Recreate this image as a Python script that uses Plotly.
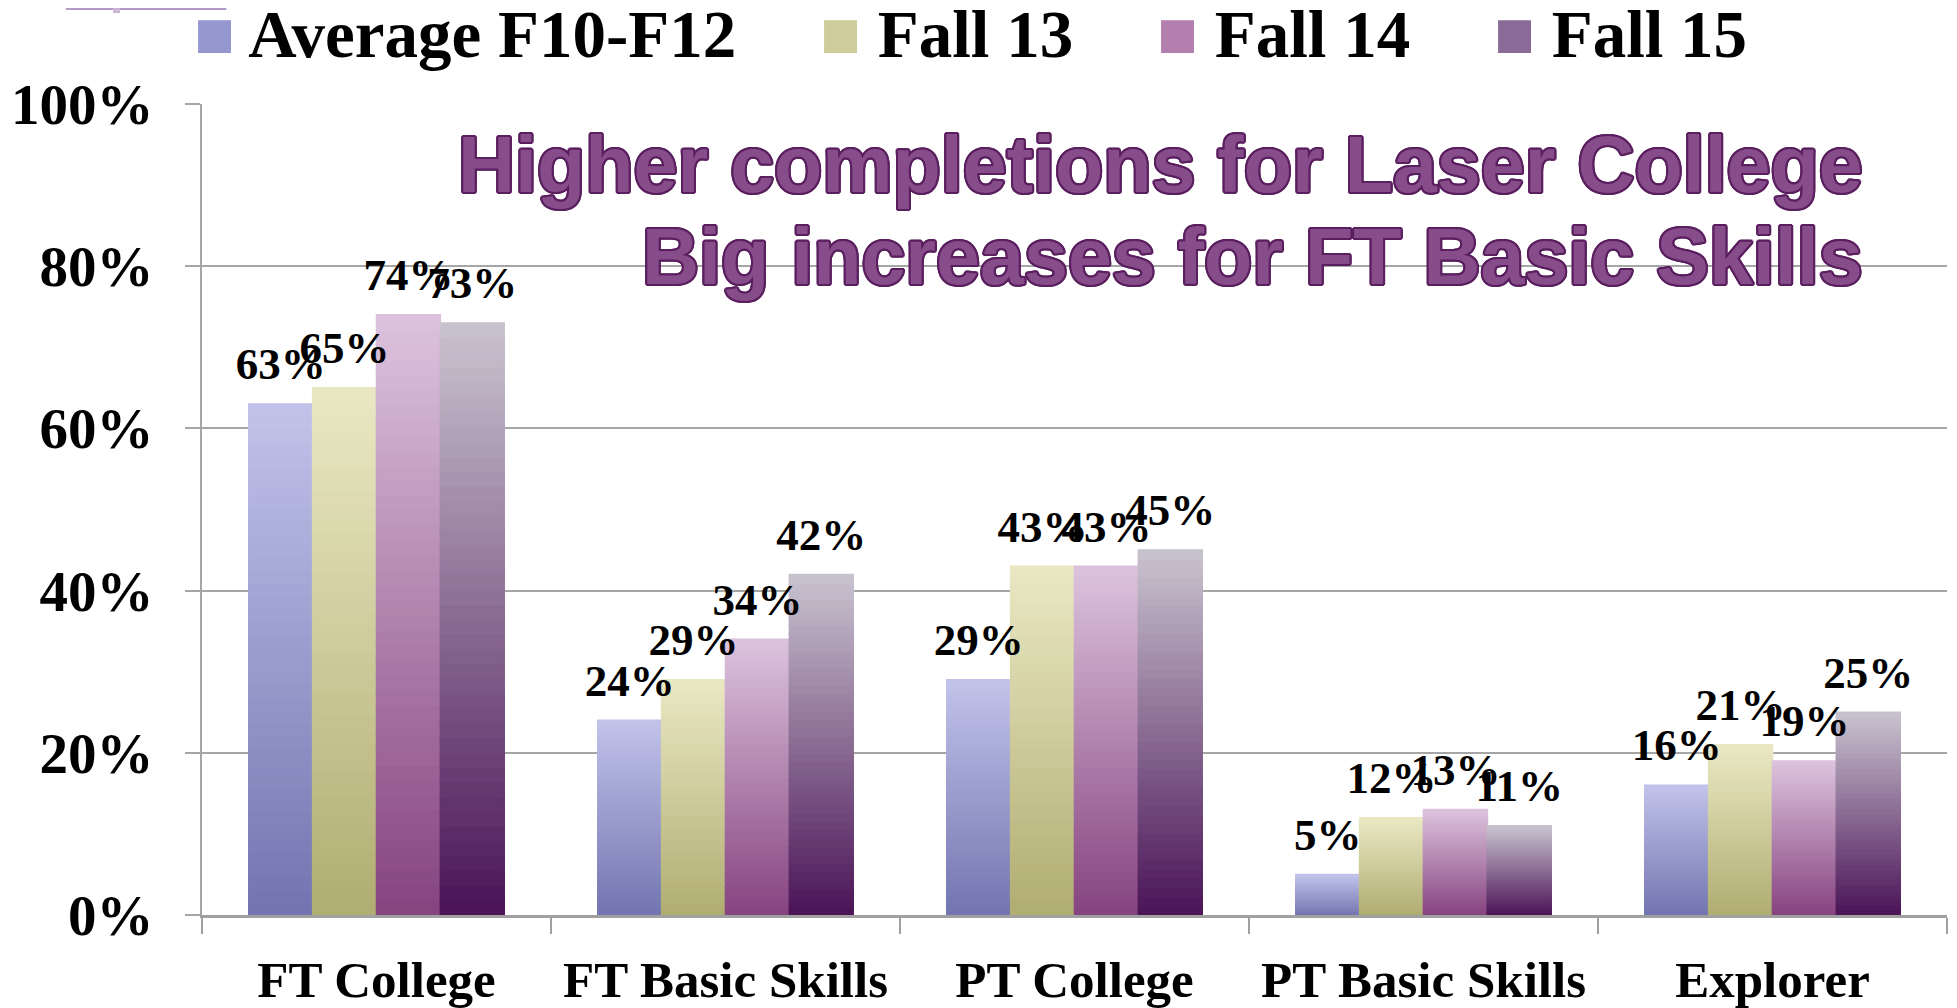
import plotly.graph_objects as go

categories = ["FT College", "FT Basic Skills", "PT College", "PT Basic Skills", "Explorer"]
series_names = ["Average F10-F12", "Fall 13", "Fall 14", "Fall 15"]
avg_f10_f12 = [63, 24, 29, 5, 16]
fall_13 = [65, 29, 43, 12, 21]
fall_14 = [74, 34, 43, 13, 19]
fall_15 = [73, 42, 45, 11, 25]
series_values = [avg_f10_f12, fall_13, fall_14, fall_15]
y_ticks = [0, 20, 40, 60, 80, 100]
y_tick_labels = ["0%", "20%", "40%", "60%", "80%", "100%"]
title_lines = ["Higher completions for Laser College", "Big increases for FT Basic Skills"]

# gradient colours (top, bottom) per series
top_colors = [(0xC1, 0xC3, 0xEA), (0xEA, 0xE8, 0xC3), (0xDC, 0xC3, 0xDD), (0xC9, 0xC3, 0xCF)]
bottom_colors = [(0x72, 0x74, 0xB0), (0xB0, 0xAD, 0x72), (0x86, 0x43, 0x7F), (0x4A, 0x13, 0x57)]
legend_colors = ["#9597CF", "#CFCC9B", "#B27FAF", "#8A6A96"]

N = 40
SERIF = "Liberation Serif, Times New Roman, serif"
SANS = "Liberation Sans, Arial, sans-serif"
OUT = "#5A1F5E"
OUTLINE = ", ".join(f"{dx}px {dy}px {OUT}" for dx, dy in
                    [(2, 0), (-2, 0), (0, 2), (0, -2), (1, 1), (-1, -1), (1, -1), (-1, 1),
                     (2, 1), (2, -1), (-2, 1), (-2, -1), (1, 2), (-1, 2), (1, -2), (-1, -2)])


def mix(c1, c2, t):
    return "rgb(%d,%d,%d)" % tuple(round(a + (b - a) * t) for a, b in zip(c1, c2))


fig = go.Figure()

for i, vals in enumerate(series_values):
    for k in range(N):
        col = mix(bottom_colors[i], top_colors[i], (k + 0.5) / N)
        fig.add_trace(go.Bar(
            x=categories,
            y=[v / N for v in vals],
            base=[v * k / N for v in vals],
            offsetgroup=str(i),
            name=series_names[i],
            legendgroup=series_names[i],
            marker=dict(color=col, line=dict(color=col, width=1.5)),
            showlegend=False,
            hoverinfo="skip",
        ))

# data labels
for i, vals in enumerate(series_values):
    fig.add_trace(go.Scatter(
        x=categories,
        y=vals,
        mode="markers+text",
        text=[f"{v}%" for v in vals],
        textposition="top center",
        textfont=dict(family=SERIF, size=45, color="black", weight="bold"),
        marker=dict(size=20, opacity=0),
        offsetgroup=str(i),
        showlegend=False,
        hoverinfo="skip",
        cliponaxis=False,
    ))

# legend (drawn as one text line so it does not push the plot margins)
GAP = "\u00a0" * 5
legend_text = GAP.join(
    f"<span style='color:{c};font-size:68px'>■</span> {n}" for c, n in zip(legend_colors, series_names)
)
fig.add_annotation(
    text=legend_text, xref="paper", yref="paper", x=-0.0055, y=1.086,
    xanchor="left", yanchor="middle", showarrow=False,
    font=dict(family=SERIF, size=67, color="black", weight="bold"),
)

for line, yy in zip(title_lines, [0.925, 0.812]):
    fig.add_annotation(
        text=line, xref="paper", yref="paper", x=0.953, y=yy,
        xanchor="right", yanchor="middle", showarrow=False,
        font=dict(family=SANS, size=79, color="#864D8A", weight="bold", shadow=OUTLINE),
    )

# slide corner decoration
fig.add_shape(type="line", xref="paper", yref="paper", x0=-0.078, x1=0.014, y0=1.117, y1=1.117,
              line=dict(color="#B49AC8", width=2))
fig.add_shape(type="rect", xref="paper", yref="paper", x0=-0.051, x1=-0.047, y0=1.112, y1=1.118,
              line=dict(width=0), fillcolor="#CDB8D8")

fig.update_layout(
    width=1949, height=1000,
    margin=dict(l=194, r=10, t=96, b=93),
    paper_bgcolor="white", plot_bgcolor="white",
    barmode="group", bargap=0.268, bargroupgap=0,
    scattermode="group",
    showlegend=False,
    xaxis=dict(
        type="category", showgrid=False, showline=True, linecolor="#A0A0A0", linewidth=3,
        ticks="outside", tickson="boundaries", ticklen=16, tickwidth=2, tickcolor="#A0A0A0",
        tickfont=dict(family=SERIF, size=51, color="black", weight="bold"),
        ticklabelstandoff=18, zeroline=False, automargin=False,
    ),
    yaxis=dict(
        range=[0, 100], tickvals=y_ticks, ticktext=y_tick_labels,
        showgrid=True, gridcolor="#A6A6A6", gridwidth=2,
        showline=True, linecolor="#A6A6A6", linewidth=2,
        ticks="outside", ticklen=15, tickwidth=2, tickcolor="#A6A6A6",
        tickfont=dict(family=SERIF, size=57, color="black", weight="bold"),
        ticklabelstandoff=20, zeroline=False, automargin=False,
    ),
)

fig.write_html("out.html")
